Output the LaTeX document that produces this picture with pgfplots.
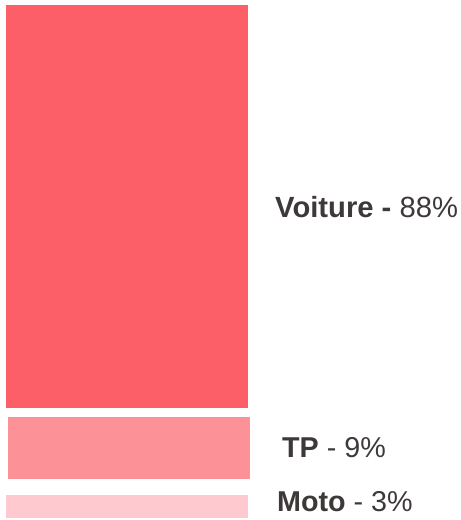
\documentclass[border=0pt]{standalone}
\usepackage{pgfplots}
\pgfplotsset{compat=1.18}
\usepackage{fontspec}
\setmainfont{Liberation Sans}
\definecolor{cVoit}{RGB}{253,95,105}
\definecolor{cTP}{RGB}{252,146,152}
\definecolor{cMoto}{RGB}{254,202,207}
\definecolor{cTxt}{RGB}{62,57,57}
\begin{document}
\begin{tikzpicture}
\begin{axis}[
  scale only axis, width=461pt, height=520pt,
  xmin=0, xmax=461, ymin=-2, ymax=518,
  hide axis, clip=false,
  ybar stacked, bar width=242pt,
]
% segment heights (drawn scale): Moto 3%, gap, TP 9%, gap, Voiture 88%
\addplot[fill=cMoto, draw=none] coordinates {(127,23)};
\addplot[fill=none, draw=none] coordinates {(127,16)};
\addplot[fill=cTP, draw=none, bar shift=2pt] coordinates {(127,62)};
\addplot[fill=none, draw=none] coordinates {(127,9)};
\addplot[fill=cVoit, draw=none] coordinates {(127,403)};
\path (rel axis cs:0,0) rectangle (rel axis cs:1,1);
\node[anchor=base west, inner sep=0pt, text=cTxt, font=\fontsize{29.2}{34}\selectfont] at (axis cs:275,300) {\textbf{Voiture -} 88\%};
\node[anchor=base west, inner sep=0pt, text=cTxt, font=\fontsize{28.7}{34}\selectfont] at (axis cs:282,60) {\textbf{TP} - 9\%};
\node[anchor=base west, inner sep=0pt, text=cTxt, font=\fontsize{28.7}{34}\selectfont] at (axis cs:277,6.3) {\textbf{Moto} - 3\%};
\end{axis}
\end{tikzpicture}
\end{document}
